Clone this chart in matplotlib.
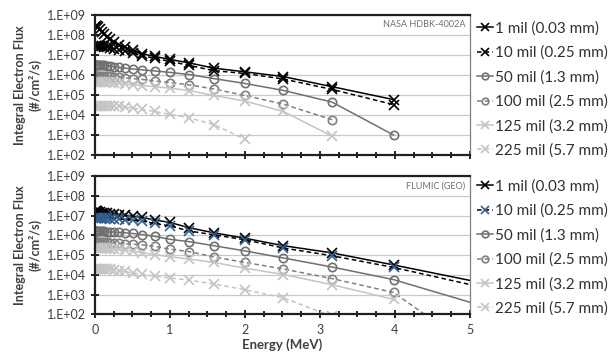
import numpy as np
import matplotlib.pyplot as plt
from matplotlib.ticker import FixedLocator, MultipleLocator, LogLocator, NullFormatter

plt.rcParams['font.family'] = ['Lato', 'DejaVu Sans']

nan = np.nan

# energy grid (MeV)
energy = [0.01, 0.016, 0.025, 0.04, 0.063, 0.1, 0.126, 0.158, 0.2, 0.251, 0.316, 0.398,
          0.501, 0.631, 0.794, 1.0, 1.259, 1.585, 1.995, 2.512, 3.162, 3.981, 6.31]

labels = ['1 mil (0.03 mm)', '10 mil (0.25 mm)', '50 mil (1.3 mm)',
          '100 mil (2.5 mm)', '125 mil (3.2 mm)', '225 mil (5.7 mm)']

# NASA HDBK-4002A
top_1mil = [2.8e8, 2.8e8, 2.7e8, 2.5e8, 2.0e8, 1.4e8, 1.1e8, 8.3e7, 6.0e7, 4.5e7, 3.3e7, 2.4e7,
            1.7e7, 1.15e7, 8.5e6, 6.0e6, 4.0e6, 2.2e6, 1.45e6, 8.3e5, 2.6e5, 5.9e4, nan]
top_10mil = [2.7e7, 2.7e7, 2.7e7, 2.7e7, 2.7e7, 2.7e7, 2.6e7, 2.5e7, 2.35e7, 2.1e7, 1.85e7, 1.6e7,
             1.25e7, 9.3e6, 6.8e6, 4.8e6, 3.0e6, 1.65e6, 1.2e6, 6.3e5, 1.9e5, 3.3e4, nan]
top_50mil = [3.2e6, 3.2e6, 3.2e6, 3.2e6, 3.2e6, 3.2e6, 3.1e6, 2.95e6, 2.8e6, 2.6e6, 2.4e6, 2.2e6,
             2.0e6, 1.8e6, 1.6e6, 1.35e6, 1.05e6, 6.6e5, 3.8e5, 1.7e5, 4.4e4, 1.0e3, nan]
top_100mil = [8.9e5, 8.9e5, 8.9e5, 8.9e5, 8.9e5, 8.9e5, 8.9e5, 8.9e5, 8.7e5, 8.3e5, 7.9e5, 7.2e5,
              6.6e5, 6.0e5, 5.0e5, 4.2e5, 3.2e5, 2.0e5, 9.5e4, 3.5e4, 5.8e3, nan, nan]
top_125mil = [4.5e5, 4.5e5, 4.5e5, 4.5e5, 4.5e5, 4.5e5, 4.5e5, 4.5e5, 4.3e5, 4.1e5, 3.8e5, 3.5e5,
              3.2e5, 2.95e5, 2.6e5, 2.2e5, 1.65e5, 9.5e4, 5.0e4, 1.5e4, 8.7e2, nan, nan]
top_225mil = [2.8e4, 2.8e4, 2.8e4, 2.8e4, 2.8e4, 2.8e4, 2.8e4, 2.8e4, 2.8e4, 2.8e4, 2.8e4, 2.5e4,
              2.2e4, 1.9e4, 1.5e4, 1.07e4, 7.1e3, 3.3e3, 6.3e2, nan, nan, nan, nan]

# FLUMIC (GEO)
bot_1mil = [1.66e7, 1.66e7, 1.62e7, 1.6e7, 1.5e7, 1.4e7, 1.35e7, 1.3e7, 1.25e7, 1.2e7, 1.1e7, 1.05e7,
            9.5e6, 8.0e6, 6.0e6, 4.5e6, 2.4e6, 1.35e6, 7.2e5, 3.0e5, 1.3e5, 3.2e4, 5.2e2]
bot_10mil = [7.4e6, 7.4e6, 7.4e6, 7.4e6, 7.4e6, 7.4e6, 7.2e6, 7.2e6, 7.1e6, 6.8e6, 6.6e6, 6.3e6,
             5.9e6, 5.2e6, 4.0e6, 3.0e6, 1.65e6, 1.07e6, 6.0e5, 2.3e5, 9.3e4, 2.4e4, 2.5e2]
bot_50mil = [1.6e6, 1.6e6, 1.6e6, 1.6e6, 1.6e6, 1.6e6, 1.6e6, 1.55e6, 1.5e6, 1.48e6, 1.4e6, 1.35e6,
             1.25e6, 1.1e6, 8.9e5, 6.3e5, 4.8e5, 3.0e5, 1.65e5, 7.2e4, 2.5e4, 5.8e3, 14]
bot_100mil = [4.4e5, 4.4e5, 4.4e5, 4.4e5, 4.4e5, 4.4e5, 4.4e5, 4.4e5, 4.2e5, 4.1e5, 4.0e5, 3.8e5,
              3.6e5, 3.3e5, 2.8e5, 2.0e5, 1.5e5, 8.1e4, 4.3e4, 2.0e4, 6.5e3, 1.3e3, 8e-4]
bot_125mil = [2.3e5, 2.3e5, 2.3e5, 2.3e5, 2.3e5, 2.3e5, 2.3e5, 2.3e5, 2.1e5, 2.1e5, 2.0e5, 1.8e5,
              1.6e5, 1.35e5, 1.07e5, 8.3e4, 6.3e4, 4.3e4, 2.2e4, 1.05e4, 3.2e3, 5.8e2, nan]
bot_225mil = [1.9e4, 1.9e4, 1.9e4, 1.9e4, 1.9e4, 1.9e4, 1.9e4, 1.9e4, 1.9e4, 1.85e4, 1.65e4, 1.5e4,
              1.25e4, 1.07e4, 8.5e3, 7.1e3, 5.4e3, 3.5e3, 1.8e3, 6.9e2, 80, nan, nan]

ytick_vals = [1e2, 1e3, 1e4, 1e5, 1e6, 1e7, 1e8, 1e9]
ytick_labels = ['1.E+02', '1.E+03', '1.E+04', '1.E+05', '1.E+06', '1.E+07', '1.E+08', '1.E+09']
xtick_vals = [0, 1, 2, 3, 4, 5]

# (line colour, linestyle, marker, marker edge colour)
styles_top = [('black', '-', 'x', 'black'),
              ('black', '--', 'x', 'black'),
              ('#707070', '-', 'o', '#707070'),
              ('#808080', '--', 'o', '#808080'),
              ('#c4c4c4', '-', 'x', '#c4c4c4'),
              ('#c4c4c4', '--', 'x', '#c4c4c4')]
styles_bot = list(styles_top)
styles_bot[1] = ('black', '--', 'x', '#2f5f8f')

fig = plt.figure(figsize=(6.14, 3.56), dpi=100)
ax1 = fig.add_axes([0.1547, 0.5646, 0.6107, 0.3933])
ax2 = fig.add_axes([0.1547, 0.1166, 0.6107, 0.3890])


def draw(ax, series, styles, source, legend_y):
    for vals, lab, (c, ls, m, mc) in zip(series, labels, styles):
        ax.plot(energy, vals, color=c, ls=ls, lw=1.1, marker=m, ms=6 if m == 'o' else 6.5,
                mfc='none', mec=mc, mew=1.2, label=lab, dashes=(3, 2) if ls == '--' else (None, None))
    ax.set_yscale('log')
    ax.set_ylim(1e2, 1e9)
    ax.set_xlim(0, 5)
    ax.yaxis.set_major_locator(FixedLocator(ytick_vals))
    ax.set_yticklabels(ytick_labels)
    ax.yaxis.set_minor_locator(LogLocator(base=10, subs=np.arange(2, 10)))
    ax.yaxis.set_minor_formatter(NullFormatter())
    ax.set_xticks(xtick_vals)
    ax.xaxis.set_minor_locator(MultipleLocator(0.25))
    ax.grid(axis='y', which='major', color='#c8c8c8', lw=0.9)
    ax.set_axisbelow(True)
    ax.tick_params(which='both', direction='inout', color='black', labelcolor='#404040',
                   labelsize=9, width=1.2)
    ax.tick_params(which='major', length=6)
    ax.tick_params(which='minor', length=4)
    for s in ['left', 'bottom', 'top']:
        ax.spines[s].set_linewidth(1.6)
        ax.spines[s].set_color('#202020')
    ax.spines['right'].set_color('#808080')
    ax.spines['right'].set_linewidth(0.9)
    ax.set_ylabel('Integral Electron Flux\n(#/cm²/s)', fontsize=9, fontweight='bold',
                  color='#404040', labelpad=4)
    ax.text(0.988, 0.93, source, transform=ax.transAxes, ha='right', va='center',
            fontsize=6.5, color='#707070')
    leg = ax.legend(loc='center left', bbox_to_anchor=(1.02, legend_y), frameon=False,
                    fontsize=11, handlelength=1.0, handletextpad=0.15, labelspacing=0.66,
                    borderpad=0, borderaxespad=0, markerscale=0.8)
    for t in leg.get_texts():
        t.set_color('#303030')


draw(ax1, [top_1mil, top_10mil, top_50mil, top_100mil, top_125mil, top_225mil],
     styles_top, 'NASA HDBK-4002A', 0.468)
draw(ax2, [bot_1mil, bot_10mil, bot_50mil, bot_100mil, bot_125mil, bot_225mil],
     styles_bot, 'FLUMIC (GEO)', 0.484)

ax1.tick_params(axis='x', labelbottom=False)
ax2.set_xlabel('Energy (MeV)', fontsize=9.5, fontweight='bold', color='#404040', labelpad=2)

fig.savefig('out.png', dpi=100)
